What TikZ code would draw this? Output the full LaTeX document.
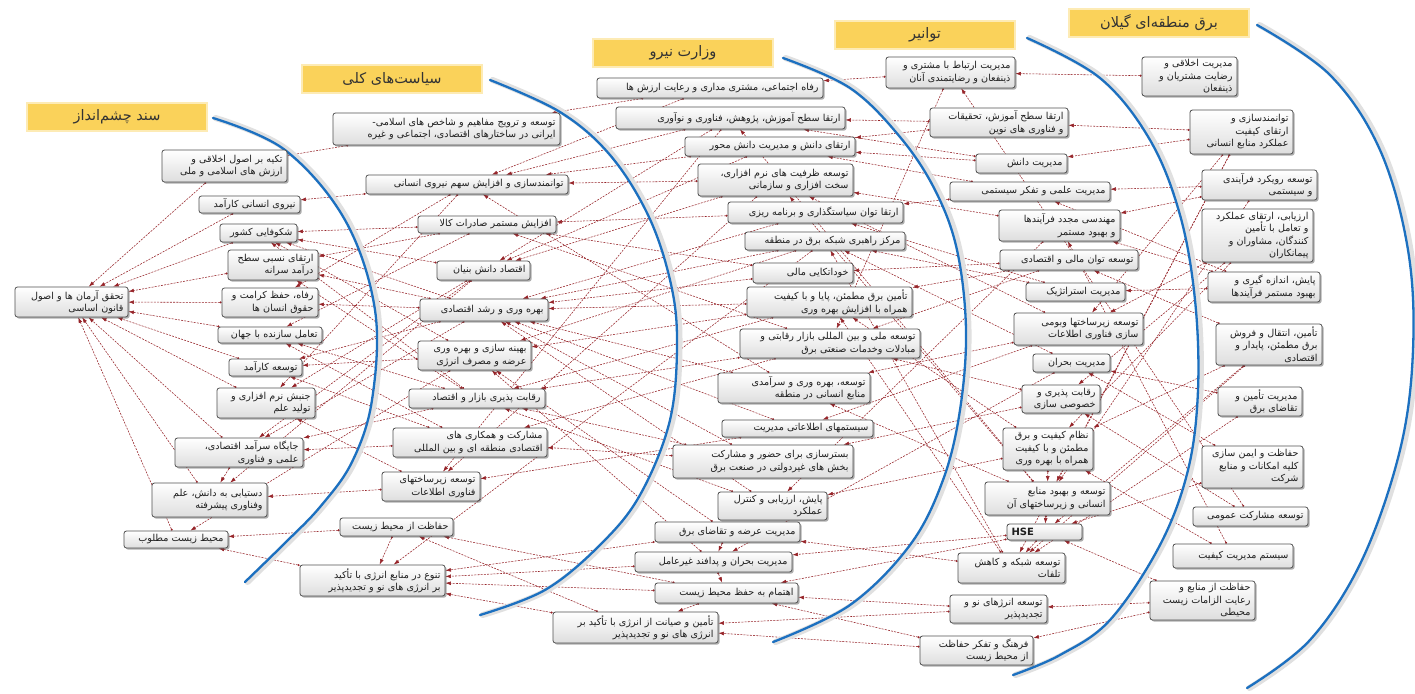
\documentclass[tikz,border=0pt]{standalone}
\usepackage{fontspec}
\usetikzlibrary{arrows.meta,shadows}
\newfontfamily\arabicfont[Script=Arabic]{DejaVu Sans}
\TeXXeTstate=1
\newcommand\rl[1]{\beginR #1\endR}
\definecolor{edgec}{RGB}{150,35,40}
\definecolor{arcblue}{RGB}{28,112,192}
\definecolor{hdr}{RGB}{250,210,90}
\definecolor{boxline}{RGB}{80,80,80}
\definecolor{txt}{RGB}{30,30,30}
\pgfdeclarelayer{bgfill}
\pgfdeclarelayer{links}
\pgfsetlayers{bgfill,links,main}
\tikzset{
 box/.style={draw=boxline, line width=0.8pt, rounded corners=2.5pt, top color=white, bottom color=black!13,
   inner xsep=4pt, inner ysep=1pt, align=right, font=\arabicfont\fontsize{9.6}{12.5}\selectfont, text=txt,
   drop shadow={shadow xshift=1.6pt, shadow yshift=-1.6pt, opacity=0.45, fill=black!70}},
 hdrbox/.style={fill=hdr, draw=hdr!45, line width=2.5pt, minimum width=180pt, minimum height=28pt,
   font=\arabicfont\fontsize{14.5}{16}\selectfont, text=black!80},
 conn/.style={draw=edgec, line width=0.55pt, dash pattern=on 2pt off 1.2pt,
   {Circle[length=2pt]}-{Latex[length=5.5pt,width=3.8pt]}},
 arcline/.style={draw=arcblue, line width=2.3pt, line cap=round},
 arcglow/.style={draw=black!12, line width=6pt, line cap=round, xshift=2.5pt},
}
\newcommand\bx[6]{%
 \pgfmathsetmacro\bxw{#4-#2}%
 \pgfmathsetmacro\bxh{#5-#3}%
 \pgfmathsetmacro\bxcx{(#2+#4)/2}%
 \pgfmathsetmacro\bxcy{(#3+#5)/2}%
 \pgfmathsetmacro\bxtw{#4-#2-9}%
 \node[box, minimum width=\bxw pt, minimum height=\bxh pt, text width=\bxtw pt] (#1) at (\bxcx,\bxcy) {#6};}
\begin{document}
\begin{tikzpicture}[x=1pt,y=-1pt]
\useasboundingbox (0,0) rectangle (1415,693);
\begin{pgfonlayer}{bgfill}
\fill[white] (0,0) rectangle (1415,693);
\end{pgfonlayer}
% headers
\node[hdrbox] (h1) at (117,117) {\rl{سند چشم‌انداز}};
\node[hdrbox] (h2) at (392,79) {\rl{سیاست‌های کلی}};
\node[hdrbox] (h3) at (683,53) {\rl{وزارت نیرو}};
\node[hdrbox] (h4) at (925,35) {\rl{توانیر}};
\node[hdrbox] (h5) at (1159,23) {\rl{برق منطقه‌ای گیلان}};
% column A
\bx{a0}{15}{287}{128}{317}{\rl{تحقق آرمان ها و اصول}\\\rl{قانون اساسی}}
\bx{a1}{162}{150}{287}{182}{\rl{تکیه بر اصول اخلاقی و}\\\rl{ارزش های اسلامی و ملی}}
\bx{a2}{199}{196}{300}{213}{\rl{نیروی انسانی کارآمد}}
\bx{a3}{220}{224}{297}{242}{\rl{شکوفایی کشور}}
\bx{a4}{228}{250}{318}{280}{\rl{ارتقای نسبی سطح}\\\rl{درآمد سرانه}}
\bx{a5}{222}{288}{318}{317}{\rl{رفاه، حفظ کرامت و}\\\rl{حقوق انسان ها}}
\bx{a6}{218}{327}{322}{343}{\rl{تعامل سازنده با جهان}}
\bx{a7}{229}{359}{302}{376}{\rl{توسعه کارآمد}}
\bx{a8}{217}{388}{315}{418}{\rl{جنبش نرم افزاری و}\\\rl{تولید علم}}
\bx{a9}{175}{438}{303}{467}{\rl{جایگاه سرآمد اقتصادی،}\\\rl{علمی و فناوری}}
\bx{a10}{152}{483}{267}{517}{\rl{دستیابی به دانش، علم}\\\rl{وفناوری پیشرفته}}
\bx{a11}{124}{531}{228}{548}{\rl{محیط زیست مطلوب}}
% column B
\bx{b1}{333}{113}{560}{145}{\rl{توسعه و ترویج مفاهیم و شاخص های اسلامی-}\\\rl{ایرانی در ساختارهای اقتصادی، اجتماعی و غیره}}
\bx{b2}{366}{175}{568}{194}{\rl{توانمندسازی و افزایش سهم نیروی انسانی}}
\bx{b3}{418}{216}{556}{233}{\rl{افزایش مستمر صادرات کالا}}
\bx{b4}{437}{261}{530}{280}{\rl{اقتصاد دانش بنیان}}
\bx{b5}{420}{299}{548}{321}{\rl{بهره وری و رشد اقتصادی}}
\bx{b6}{418}{341}{531}{370}{\rl{بهینه سازی و بهره وری}\\\rl{عرضه و مصرف انرژی}}
\bx{b7}{409}{389}{545}{408}{\rl{رقابت پذیری بازار و اقتصاد}}
\bx{b8}{393}{428}{547}{457}{\rl{مشارکت و همکاری های}\\\rl{اقتصادی منطقه ای و بین المللی}}
\bx{b9}{382}{472}{480}{501}{\rl{توسعه زیرساختهای}\\\rl{فناوری اطلاعات}}
\bx{b10}{340}{518}{453}{536}{\rl{حفاظت از محیط زیست}}
\bx{b11}{300}{565}{445}{596}{\rl{تنوع در منابع انرژی با تأکید}\\\rl{بر انرژی های نو و تجدیدپذیر}}
% column C
\bx{c1}{597}{78}{823}{98}{\rl{رفاه اجتماعی، مشتری مداری و رعایت ارزش ها}}
\bx{c2}{616}{107}{845}{129}{\rl{ارتقا سطح آموزش، پژوهش، فناوری و نوآوری}}
\bx{c3}{685}{137}{855}{156}{\rl{ارتقای دانش و مدیریت دانش محور}}
\bx{c4}{698}{164}{853}{196}{\rl{توسعه ظرفیت های نرم افزاری،}\\\rl{سخت افزاری و سازمانی}}
\bx{c5}{728}{202}{903}{223}{\rl{ارتقا توان سیاستگذاری و برنامه ریزی}}
\bx{c6}{745}{232}{905}{250}{\rl{مرکز راهبری شبکه برق در منطقه}}
\bx{c7}{753}{263}{853}{283}{\rl{خوداتکایی مالی}}
\bx{c8}{747}{287}{912}{317}{\rl{تأمین برق مطمئن، پایا و با کیفیت}\\\rl{همراه با افزایش بهره وری}}
\bx{c9}{740}{329}{920}{358}{\rl{توسعه ملی و بین المللی بازار رقابتی و}\\\rl{مبادلات وخدمات صنعتی برق}}
\bx{c10}{718}{373}{870}{403}{\rl{توسعه، بهره وری و سرآمدی}\\\rl{منابع انسانی در منطقه}}
\bx{c11}{722}{420}{873}{437}{\rl{سیستمهای اطلاعاتی مدیریت}}
\bx{c12}{673}{445}{853}{478}{\rl{بسترسازی برای حضور و مشارکت}\\\rl{بخش های غیردولتی در صنعت برق}}
\bx{c13}{718}{492}{827}{520}{\rl{پایش، ارزیابی و کنترل}\\\rl{عملکرد}}
\bx{c14}{655}{522}{800}{542}{\rl{مدیریت عرضه و تقاضای برق}}
\bx{c15}{635}{552}{792}{572}{\rl{مدیریت بحران و پدافند غیرعامل}}
\bx{c16}{655}{583}{798}{603}{\rl{اهتمام به حفظ محیط زیست}}
\bx{c17}{553}{612}{718}{643}{\rl{تأمین و صیانت از انرژی با تأکید بر}\\\rl{انرژی های نو و تجدیدپذیر}}
% column D
\bx{d1}{886}{57}{1015}{88}{\rl{مدیریت ارتباط با مشتری و}\\\rl{ذینفعان و رضایتمندی آنان}}
\bx{d2}{930}{108}{1068}{137}{\rl{ارتقا سطح آموزش، تحقیقات}\\\rl{و فناوری های نوین}}
\bx{d3}{976}{154}{1067}{173}{\rl{مدیریت دانش}}
\bx{d4}{950}{182}{1110}{201}{\rl{مدیریت علمی و تفکر سیستمی}}
\bx{d5}{999}{210}{1120}{241}{\rl{مهندسی مجدد فرآیندها}\\\rl{و بهبود مستمر}}
\bx{d6}{1000}{250}{1138}{270}{\rl{توسعه توان مالی و اقتصادی}}
\bx{d7}{1026}{283}{1125}{301}{\rl{مدیریت استراتژیک}}
\bx{d8}{1014}{313}{1143}{345}{\rl{توسعه زیرساختها وبومی}\\\rl{سازی فناوری اطلاعات}}
\bx{d9}{1033}{354}{1110}{372}{\rl{مدیریت بحران}}
\bx{d10}{1022}{385}{1100}{413}{\rl{رقابت پذیری و}\\\rl{خصوصی سازی}}
\bx{d11}{1003}{428}{1093}{470}{\rl{نظام کیفیت و برق}\\\rl{مطمئن و با کیفیت}\\\rl{همراه با بهره وری}}
\bx{d12}{985}{482}{1110}{515}{\rl{توسعه و بهبود منابع}\\\rl{انسانی و زیرساختهای آن}}
\bx{d13}{1007}{524}{1082}{540}{\makebox[\linewidth][l]{\fontsize{10}{11}\selectfont\bfseries HSE}}
\bx{d14}{958}{553}{1065}{583}{\rl{توسعه شبکه و کاهش}\\\rl{تلفات}}
\bx{d15}{950}{595}{1047}{623}{\rl{توسعه انرژهای نو و}\\\rl{تجدیدپذیر}}
\bx{d16}{920}{636}{1033}{665}{\rl{فرهنگ و تفکر حفاظت}\\\rl{از محیط زیست}}
% column E
\bx{e1}{1142}{57}{1237}{96}{\rl{مدیریت اخلاقی و}\\\rl{رضایت مشتریان و}\\\rl{ذینفعان}}
\bx{e2}{1190}{110}{1293}{154}{\rl{توانمندسازی و}\\\rl{ارتقای کیفیت}\\\rl{عملکرد منابع انسانی}}
\bx{e3}{1202}{170}{1317}{200}{\rl{توسعه رویکرد فرآیندی}\\\rl{و سیستمی}}
\bx{e4}{1202}{209}{1313}{262}{\rl{ارزیابی، ارتقای عملکرد}\\\rl{و تعامل با تأمین}\\\rl{کنندگان، مشاوران و}\\\rl{پیمانکاران}}
\bx{e5}{1208}{272}{1320}{302}{\rl{پایش، اندازه گیری و}\\\rl{بهبود مستمر فرآیندها}}
\bx{e6}{1216}{324}{1322}{365}{\rl{تأمین، انتقال و فروش}\\\rl{برق مطمئن، پایدار و}\\\rl{اقتصادی}}
\bx{e7}{1218}{387}{1302}{416}{\rl{مدیریت تأمین و}\\\rl{تقاضای برق}}
\bx{e8}{1202}{446}{1303}{488}{\rl{حفاظت و ایمن سازی}\\\rl{کلیه امکانات و منابع}\\\rl{شرکت}}
\bx{e9}{1193}{507}{1308}{526}{\rl{توسعه مشارکت عمومی}}
\bx{e10}{1173}{544}{1293}{568}{\rl{سیستم مدیریت کیفیت}}
\bx{e11}{1150}{581}{1255}{620}{\rl{حفاظت از منابع و}\\\rl{رعایت الزامات زیست}\\\rl{محیطی}}
% connectors and arcs
\begin{pgfonlayer}{links}
\foreach \s/\t in {a1/a0,a2/a0,a3/a0,a4/a0,a5/a0,a6/a0,a7/a0,a8/a0,a9/a0,a10/a0,a11/a0,a9/a10,
 b1/a1,b2/a2,b2/a5,b2/a8,b3/a3,b3/a6,b4/a3,b4/a8,b4/a9,b4/a10,b5/a3,b5/a4,b5/a5,b5/a7,b6/a3,b6/a7,b6/a11,
 b7/a3,b7/a4,b7/a9,b8/a6,b8/a7,b8/a9,b9/a8,b9/a10,b10/a11,b11/a11,b3/a4,b7/a6,b5/a9,b10/b11,
 c1/b1,c1/b2,c2/b2,c2/b4,c2/b9,c3/b4,c3/b2,c4/b2,c4/b4,c4/b9,c5/b5,c5/b3,c6/b6,c6/b5,c7/b5,c7/b3,
 c8/b6,c8/b5,c8/b7,c9/b3,c9/b7,c9/b8,c10/b2,c10/b5,c11/b9,c11/b5,c12/b7,c12/b8,c12/b5,c13/b5,c13/b7,
 c14/b6,c15/b6,c15/b11,c16/b10,c16/b11,c17/b11,c17/b10,c14/b11,c6/b11,c14/c15,c15/c16,c16/c17,
 d1/c1,d1/c9,d2/c2,d2/c3,d3/c3,d3/c2,d4/c5,d4/c3,d5/c4,d5/c13,d6/c7,d6/c9,d7/c5,d7/c6,d8/c11,d8/c4,
 d9/c15,d9/c6,d10/c9,d10/c12,d11/c8,d11/c13,d12/c10,d12/c2,d13/c16,d13/c15,d14/c14,d14/c8,d14/c6,
 d15/c17,d15/c16,d16/c16,d16/c17,d6/c8,d8/c10,d12/c4,d11/d12,d12/d13,d13/d14,
 e1/d1,e2/d2,e2/d12,e2/d3,e3/d4,e3/d5,e4/d10,e4/d11,e4/d8,e5/d5,e5/d7,e5/d4,e6/d6,e6/d11,e6/d14,
 e7/d9,e7/d14,e8/d13,e8/d9,e9/d1,e9/d10,e10/d11,e10/d5,e11/d15,e11/d16,e11/d13,e2/d8,e3/d12,e6/d13,e2/d14}
 \draw[conn] (\s) -- (\t);
\foreach \pts in {
 {(213,118) (285,150) (345,220) (375,310) (372,400) (352,462) (320,507) (285,543) (245,582)},
 {(490,80) (560,112) (610,155) (648,215) (670,280) (677,340) (670,420) (640,495) (600,545) (545,590) (480,615)},
 {(783,58) (850,88) (900,137) (935,190) (957,250) (966,330) (960,410) (943,480) (910,545) (850,605) (773,642)},
 {(1027,38) (1100,78) (1150,140) (1180,215) (1195,300) (1198,390) (1188,470) (1160,545) (1110,620) (1060,655) (1013,675)},
 {(1257,25) (1330,75) (1380,150) (1408,250) (1413,350) (1400,450) (1362,560) (1310,640) (1247,688)}}
 {\draw[arcglow] plot[smooth,tension=0.6] coordinates \pts;
  \draw[arcline] plot[smooth,tension=0.6] coordinates \pts;}
\end{pgfonlayer}
\end{tikzpicture}
\end{document}
